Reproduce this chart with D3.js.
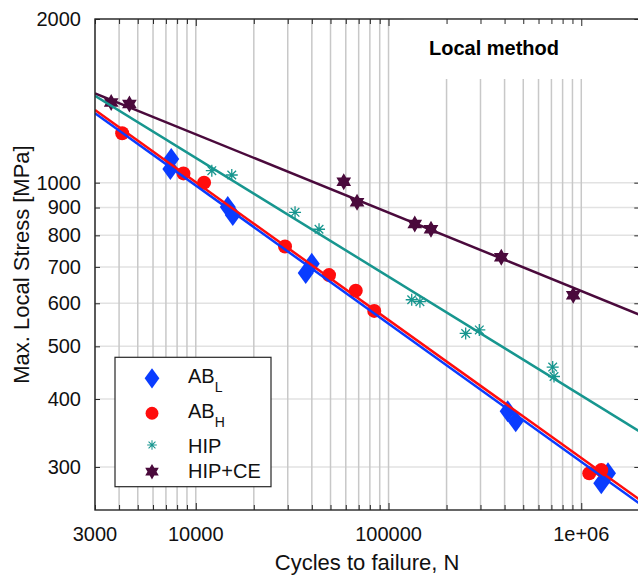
<!DOCTYPE html>
<html>
<head>
<meta charset="utf-8">
<script src="https://cdn.jsdelivr.net/npm/d3@7"></script>
<style>
  body { margin: 0; background: #fff; }
  text { font-family: "Liberation Sans", Arial, sans-serif; }
</style>
</head>
<body>
<script>
// Data (cycles N, stress MPa)
const abL_N = [7460, 7380, 14650, 15560, 39970, 37190, 415000, 457000, 1270000, 1376000]
const abL_S = [1105, 1060, 902, 872, 709, 682, 380, 364, 280, 292]

const abH_N = [4150, 8630, 11040, 29040, 49130, 67600, 84330, 1100000, 1270000]
const abH_S = [1233, 1040, 1000, 763, 676, 633, 581, 292, 296]

const hip_N = [12110, 15370, 32730, 43600, 131900, 145500, 251300, 295800, 710600, 722000]
const hip_S = [1052, 1033, 882, 821, 609, 604, 528, 536, 458, 440]

const hipce_N = [3640, 4525, 58570, 68650, 136800, 166100, 384600, 908600]
const hipce_S = [1405, 1395, 1004, 920, 839, 821, 729, 621]

// fitted lines, stress at both ends of the N range
const fit_N = [3000, 2000000]
const fitAbL_S = [1342, 257]
const fitAbH_S = [1360, 261.5]
const fitHip_S = [1445, 349]
const fitHipce_S = [1460, 572]

const xTickLabels = [3000, 10000, 100000, 1000000]
const yTickLabels = [300, 400, 500, 600, 700, 800, 900, 1000, 2000]

//Declare VARIABLES
const w = 638
const h = 577
const pLeft = 95, pRight = 639.3, pTop = 19, pBottom = 510

const x = d3.scaleLog().domain([3000, 2000000]).range([pLeft, pRight])
const y = d3.scaleLog().domain([250, 2000]).range([pBottom, pTop])

const svg = d3.select('body')
  .append('svg')
  .attr('width', w)
  .attr('height', h)

const zip = (a, b) => a.map((d, i) => [d, b[i]])

const series = [
  { name: 'AB', sub: 'L', color: '#0a3cff', shape: 'diamond', pts: zip(abL_N, abL_S), fit: zip(fit_N, fitAbL_S) },
  { name: 'AB', sub: 'H', color: '#ff0d0d', shape: 'circle', pts: zip(abH_N, abH_S), fit: zip(fit_N, fitAbH_S) },
  { name: 'HIP', sub: '', color: '#17968f', shape: 'asterisk', pts: zip(hip_N, hip_S), fit: zip(fit_N, fitHip_S) },
  { name: 'HIP+CE', sub: '', color: '#4a0a3c', shape: 'hexagram', pts: zip(hipce_N, hipce_S), fit: zip(fit_N, fitHipce_S) }
]

// clip for the plot area
svg.append('clipPath').attr('id', 'clip')
  .append('rect')
  .attr('x', pLeft).attr('y', pTop)
  .attr('width', pRight - pLeft).attr('height', pBottom - pTop)

//Grid lines
const xGrid = x.ticks()
svg.append('g')
  .selectAll('line')
  .data(yTickLabels)
  .enter()
  .append('line')
  .attr('x1', pLeft).attr('x2', pRight)
  .attr('y1', d => y(d)).attr('y2', d => y(d))
  .attr('stroke', '#e2e2e2')
  .attr('stroke-width', 1.5)

svg.append('g')
  .selectAll('line')
  .data(xGrid)
  .enter()
  .append('line')
  .attr('x1', d => x(d)).attr('x2', d => x(d))
  .attr('y1', pTop).attr('y2', pBottom)
  .attr('stroke', '#c8c8c8')
  .attr('stroke-width', 1.5)

// white box behind the title
svg.append('rect')
  .attr('x', 404).attr('y', pTop)
  .attr('width', 182).attr('height', 60)
  .attr('fill', '#fff')

svg.append('text')
  .attr('x', 494)
  .attr('y', 55)
  .attr('text-anchor', 'middle')
  .style('font-size', '20px')
  .style('font-weight', 'bold')
  .text('Local method')

// marker paths
function markerPath(shape) {
  if (shape === 'diamond') return 'M0,-11L8,0L0,11L-8,0Z'
  if (shape === 'circle') return d3.symbol(d3.symbolCircle, Math.PI * 7 * 7)()
  if (shape === 'hexagram') {
    const R = 8.5, r = R / Math.sqrt(3)
    let p = ''
    for (let i = 0; i < 12; i++) {
      const a = -Math.PI / 2 + i * Math.PI / 6
      const rr = i % 2 === 0 ? R : r
      p += (i === 0 ? 'M' : 'L') + (rr * Math.cos(a)).toFixed(2) + ',' + (rr * Math.sin(a)).toFixed(2)
    }
    return p + 'Z'
  }
  // asterisk: plus and cross
  const a = 6, b = 4.3
  return `M${-a},0L${a},0M0,${-a}L0,${a}M${-b},${-b}L${b},${b}M${-b},${b}L${b},${-b}`
}

function drawMarker(sel, s) {
  sel.attr('d', markerPath(s.shape))
  if (s.shape === 'asterisk') {
    sel.attr('fill', 'none').attr('stroke', s.color).attr('stroke-width', 1.3)
  } else {
    sel.attr('fill', s.color).attr('stroke', 'none')
  }
}

const plot = svg.append('g').attr('clip-path', 'url(#clip)')

//Markers
series.forEach(s => {
  plot.append('g')
    .selectAll('path')
    .data(s.pts)
    .enter()
    .append('path')
    .attr('transform', d => `translate(${x(d[0])},${y(d[1])})`)
    .call(drawMarker, s)
})

//Fit lines
const line = d3.line().x(d => x(d[0])).y(d => y(d[1]))
;[series[3], series[2], series[0], series[1]].forEach(s => {
  plot.append('path')
    .datum(s.fit)
    .attr('d', line)
    .attr('fill', 'none')
    .attr('stroke', s.color)
    .attr('stroke-width', 2.5)
})

//Axes (box with inner ticks)
const isMajor = d => Math.abs(Math.log10(d) - Math.round(Math.log10(d))) < 1e-9
svg.append('g')
  .attr('transform', `translate(0,${pBottom})`)
  .call(d3.axisBottom(x).tickValues(xGrid).tickSize(0).tickFormat(''))
  .call(g => g.select('.domain').remove())
  .selectAll('.tick line')
  .attr('y2', d => isMajor(d) ? -7 : -5)
  .attr('stroke', '#262626')

svg.append('g')
  .attr('transform', `translate(0,${pTop})`)
  .call(d3.axisTop(x).tickValues(xGrid).tickSize(0).tickFormat(''))
  .call(g => g.select('.domain').remove())
  .selectAll('.tick line')
  .attr('y2', d => isMajor(d) ? 7 : 5)
  .attr('stroke', '#262626')

svg.append('g')
  .attr('transform', `translate(${pLeft},0)`)
  .call(d3.axisLeft(y).tickValues(yTickLabels).tickSize(-5).tickPadding(14).tickFormat(d3.format('d')))
  .call(g => g.select('.domain').remove())
  .call(g => g.selectAll('.tick line').attr('stroke', '#262626'))
  .selectAll('text')
  .style('font-size', '20px')
  .attr('fill', '#111')

svg.append('g')
  .attr('transform', `translate(${pRight},0)`)
  .call(d3.axisRight(y).tickValues(yTickLabels).tickSize(-5).tickFormat(''))
  .call(g => g.select('.domain').remove())
  .selectAll('.tick line').attr('stroke', '#262626')

svg.append('g')
  .selectAll('text')
  .data(xTickLabels)
  .enter()
  .append('text')
  .attr('x', d => x(d))
  .attr('y', 541)
  .attr('text-anchor', 'middle')
  .style('font-size', '20px')
  .attr('fill', '#111')
  .text(d => d >= 1e6 ? '1e+06' : d)

svg.append('rect')
  .attr('x', pLeft).attr('y', pTop)
  .attr('width', pRight - pLeft).attr('height', pBottom - pTop)
  .attr('fill', 'none')
  .attr('stroke', '#262626')
  .attr('stroke-width', 1.4)

//Axis titles
svg.append('text')
  .attr('x', (pLeft + pRight) / 2)
  .attr('y', 570)
  .attr('text-anchor', 'middle')
  .style('font-size', '22px')
  .attr('fill', '#111')
  .text('Cycles to failure, N')

svg.append('text')
  .attr('transform', `translate(29,${(pTop + pBottom) / 2}) rotate(-90)`)
  .attr('text-anchor', 'middle')
  .style('font-size', '22px')
  .attr('fill', '#111')
  .text('Max. Local Stress [MPa]')

//Legend
const legendMarkY = [378.3, 413.3, 445, 471.7]
const legendTextY = [382.7, 418, 452.7, 478.3]

svg.append('rect')
  .attr('x', 115).attr('y', 357.3)
  .attr('width', 156).attr('height', 129.4)
  .attr('fill', '#fff')
  .attr('stroke', '#262626')
  .attr('stroke-width', 1.2)

series.forEach((s, i) => {
  svg.append('path')
    .call(drawMarker, s)
    .attr('transform', `translate(152,${legendMarkY[i]})` + (s.shape === 'asterisk' ? ' scale(0.8)' : ' scale(0.92)'))

  const t = svg.append('text')
    .attr('x', 188)
    .attr('y', legendTextY[i])
    .style('font-size', '20px')
    .attr('fill', '#111')
    .text(s.name)
  if (s.sub) {
    t.append('tspan')
      .attr('dy', 9)
      .style('font-size', '14px')
      .text(s.sub)
  }
})
</script>
</body>
</html>
